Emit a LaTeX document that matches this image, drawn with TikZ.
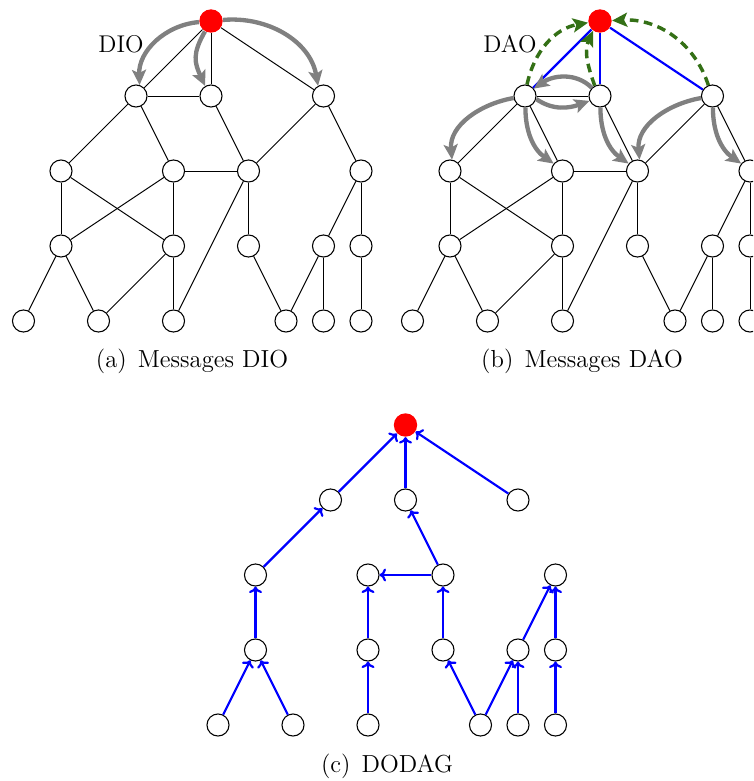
\documentclass[tikz,border=0pt]{standalone}
\usetikzlibrary{arrows.meta}
\definecolor{daogreen}{RGB}{52,112,22}
\begin{document}
\begin{tikzpicture}[x=0.4625pt,y=-0.4625pt,
  nd/.style={circle,draw,line width=0.5pt,minimum size=10.2pt,inner sep=0pt},
  rt/.style={circle,fill=red,minimum size=10.8pt,inner sep=0pt},
  ln/.style={line width=0.45pt},
  bl/.style={blue,line width=1pt},
  garr/.style={gray,line width=2pt,-{Stealth[length=7pt,width=6.5pt,inset=1.5pt]}},
  darr/.style={daogreen,line width=1.6pt,dash pattern=on 4pt off 2.6pt,-{Stealth[length=7pt,width=6.5pt,inset=1.5pt]}},
  parr/.style={blue,line width=1pt,-{To[length=3pt,width=6pt]}},
  lbl/.style={inner sep=0pt,font=\fontsize{11.2}{13}\selectfont},
  captext/.style={inner sep=0pt,font=\fontsize{11.4}{13}\selectfont}]
\useasboundingbox (0,0) rectangle (753,781);
\clip (0,0) rectangle (753,781);
% node placement macro
\newcommand\placegraph[3]{%
  \begin{scope}[shift={(#1,#2)},name prefix=#3-]
    \node[rt] (r) at (0,0) {};
    \node[nd] (A1) at (-75,75) {};
    \node[nd] (A2) at (0,75) {};
    \node[nd] (A3) at (112.5,75) {};
    \node[nd] (B1) at (-150,150) {};
    \node[nd] (B2) at (-37.5,150) {};
    \node[nd] (B3) at (37.5,150) {};
    \node[nd] (B4) at (150,150) {};
    \node[nd] (C1) at (-150,225) {};
    \node[nd] (C2) at (-37.5,225) {};
    \node[nd] (C3) at (37.5,225) {};
    \node[nd] (C4) at (112.5,225) {};
    \node[nd] (C5) at (150,225) {};
    \node[nd] (D1) at (-187.5,300) {};
    \node[nd] (D2) at (-112.5,300) {};
    \node[nd] (D3) at (-37.5,300) {};
    \node[nd] (D4) at (75,300) {};
    \node[nd] (D5) at (112.5,300) {};
    \node[nd] (D6) at (150,300) {};
  \end{scope}}
\newcommand\meshedges[1]{%
  \draw[ln] (#1-A1) -- (#1-A2);
  \draw[ln] (#1-A1) -- (#1-B1);
  \draw[ln] (#1-A1) -- (#1-B2);
  \draw[ln] (#1-A2) -- (#1-B3);
  \draw[ln] (#1-A3) -- (#1-B3);
  \draw[ln] (#1-A3) -- (#1-B4);
  \draw[ln] (#1-B2) -- (#1-B3);
  \draw[ln] (#1-B1) -- (#1-C1);
  \draw[ln] (#1-B1) -- (#1-C2);
  \draw[ln] (#1-B2) -- (#1-C1);
  \draw[ln] (#1-B2) -- (#1-C2);
  \draw[ln] (#1-B3) -- (#1-C3);
  \draw[ln] (#1-B3) -- (#1-D3);
  \draw[ln] (#1-B4) -- (#1-C4);
  \draw[ln] (#1-B4) -- (#1-C5);
  \draw[ln] (#1-C1) -- (#1-D1);
  \draw[ln] (#1-C1) -- (#1-D2);
  \draw[ln] (#1-C2) -- (#1-D2);
  \draw[ln] (#1-C2) -- (#1-D3);
  \draw[ln] (#1-C3) -- (#1-D4);
  \draw[ln] (#1-C4) -- (#1-D4);
  \draw[ln] (#1-C4) -- (#1-D5);
  \draw[ln] (#1-C5) -- (#1-D6);}
% ---------- (a) ----------
\placegraph{211}{21}{a}
\meshedges{a}
\draw[ln] (a-r) -- (a-A1);
\draw[ln] (a-r) -- (a-A2);
\draw[ln] (a-r) -- (a-A3);
\draw[garr] (a-r.185) to[out=185,in=92] (a-A1.72);
\draw[garr] (a-r.240) to[out=240,in=115,looseness=1.2] (a-A2.120);
\draw[garr] (a-r.5) to[out=5,in=100] (a-A3.118);
\node[lbl] (dio) at (121,44) {DIO};
\node[captext] (capa) at (192,361) {(a)\hspace{0.45em}Messages DIO};
% ---------- (b) ----------
\placegraph{600}{21}{b}
\meshedges{b}
\draw[bl] (b-r) -- (b-A1);
\draw[bl] (b-r) -- (b-A2);
\draw[bl] (b-r) -- (b-A3);
\draw[darr] (b-A1.80) to[out=78,in=190] (b-r.188);
\draw[darr] (b-A2.117) to[out=110,in=245] (b-r.235);
\draw[darr] (b-A3.111) to[out=108,in=3] (b-r.2);
\draw[garr] (b-A2.135) to[out=135,in=35] (b-A1.40);
\draw[garr] (b-A1.-15) to[out=-35,in=200] (b-A2.205);
\draw[garr] (b-A1.190) to[out=190,in=95] (b-B1.80);
\draw[garr] (b-A1.272) to[out=270,in=145] (b-B2.140);
\draw[garr] (b-A2.272) to[out=270,in=145] (b-B3.140);
\draw[garr] (b-A3.190) to[out=190,in=95] (b-B3.80);
\draw[garr] (b-A3.272) to[out=270,in=145] (b-B4.140);
\node[lbl] (dao) at (510,44) {DAO};
\node[captext] (capb) at (582,361) {(b)\hspace{0.45em}Messages DAO};
% ---------- (c) ----------
\placegraph{405.5}{425}{c}
\draw[parr] (c-A1) -- (c-r);
\draw[parr] (c-A2) -- (c-r);
\draw[parr] (c-A3) -- (c-r);
\draw[parr] (c-B1) -- (c-A1);
\draw[parr] (c-B3) -- (c-A2);
\draw[parr] (c-B3) -- (c-B2);
\draw[parr] (c-C1) -- (c-B1);
\draw[parr] (c-C2) -- (c-B2);
\draw[parr] (c-C3) -- (c-B3);
\draw[parr] (c-C4) -- (c-B4);
\draw[parr] (c-C5) -- (c-B4);
\draw[parr] (c-D1) -- (c-C1);
\draw[parr] (c-D2) -- (c-C1);
\draw[parr] (c-D3) -- (c-C2);
\draw[parr] (c-D4) -- (c-C3);
\draw[parr] (c-D4) -- (c-C4);
\draw[parr] (c-D5) -- (c-C4);
\draw[parr] (c-D6) -- (c-C5);
\node[captext] (capc) at (387,766) {(c)\hspace{0.45em}DODAG};
\end{tikzpicture}
\end{document}
